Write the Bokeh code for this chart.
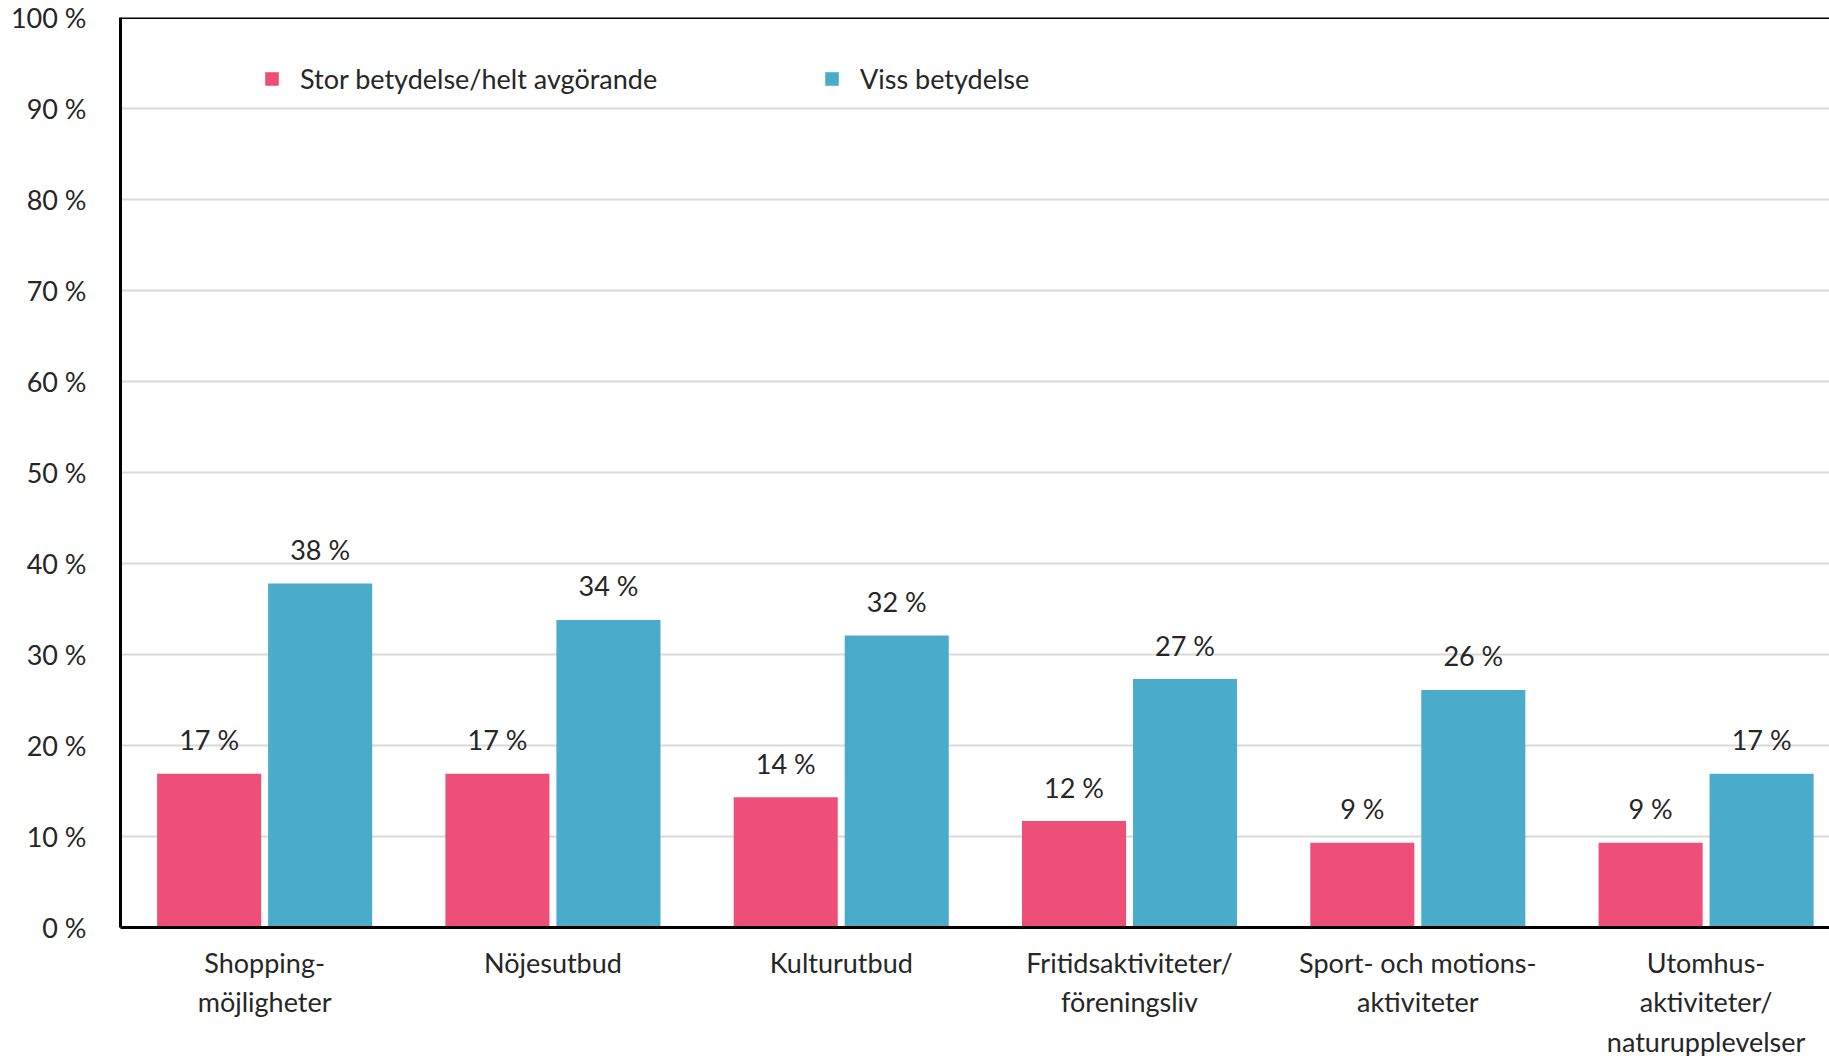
from bokeh.plotting import figure
from bokeh.models import (ColumnDataSource, Range1d, FixedTicker, Span, Legend, LegendItem)
from bokeh.core.properties import value
from bokeh.transform import dodge
from bokeh.embed import file_html
from bokeh.resources import INLINE

categories = ["Shopping-\nmöjligheter", "Nöjesutbud", "Kulturutbud",
              "Fritidsaktiviteter/\nföreningsliv", "Sport- och motions-\naktiviteter",
              "Utomhus-\naktiviteter/\nnaturupplevelser"]
stor = [16.9, 16.9, 14.3, 11.7, 9.3, 9.3]
viss = [37.8, 33.8, 32.1, 27.3, 26.1, 16.9]
series_names = ["Stor betydelse/helt avgörande", "Viss betydelse"]
y_ticks = [0, 10, 20, 30, 40, 50, 60, 70, 80, 90, 100]
y_tick_labels = ["0 %", "10 %", "20 %", "30 %", "40 %", "50 %", "60 %", "70 %", "80 %", "90 %", "100 %"]

PINK = "#ee4f78"
BLUE = "#4babcb"
FONT = "Lato"
FS = "27px"
TXT = "#262626"

xpos = [i + 0.5 for i in range(len(categories))]
src = ColumnDataSource(dict(
    x=xpos, stor=stor, viss=viss,
    stor_lbl=[f"{round(v)} %" for v in stor],
    viss_lbl=[f"{round(v)} %" for v in viss],
))

p = figure(output_backend="svg", toolbar_location=None,
           frame_width=1709, frame_height=910,
           min_border_left=120, min_border_right=0, min_border_top=17, min_border_bottom=127,
           x_range=Range1d(0, 5.928), y_range=Range1d(0, 100))
p.outline_line_color = None
p.background_fill_color = "white"

off = 0.1925
w = 0.361
r1 = p.vbar(x=dodge("x", -off, range=p.x_range), top="stor", width=w, source=src,
            fill_color=PINK, line_color=None)
r2 = p.vbar(x=dodge("x", off, range=p.x_range), top="viss", width=w, source=src,
            fill_color=BLUE, line_color=None)

for xo, col in ((-off, "stor_lbl"), (off, "viss_lbl")):
    p.text(x=dodge("x", xo, range=p.x_range), y=col.split("_")[0], text=col, source=src,
           text_align="center", text_baseline="middle", y_offset=-34,
           text_font=value(FONT), text_font_size=value(FS), text_color=TXT)

# axes
p.xaxis.ticker = FixedTicker(ticks=xpos)
p.xaxis.major_label_overrides = {x: c for x, c in zip(xpos, categories)}
p.xaxis.major_tick_line_color = None
p.xaxis.minor_tick_line_color = None
p.xaxis.axis_line_color = "black"
p.xaxis.axis_line_width = 3
p.xaxis.major_label_standoff = 12
p.xaxis.major_label_text_font = FONT
p.xaxis.major_label_text_font_size = FS
p.xaxis.major_label_text_color = TXT

p.yaxis.ticker = FixedTicker(ticks=y_ticks)
p.yaxis.major_label_overrides = {t: l for t, l in zip(y_ticks, y_tick_labels)}
p.yaxis.major_tick_line_color = None
p.yaxis.minor_tick_line_color = None
p.yaxis.axis_line_color = "black"
p.yaxis.axis_line_width = 3
p.yaxis.major_label_standoff = 28
p.yaxis.major_label_text_font = FONT
p.yaxis.major_label_text_font_size = FS
p.yaxis.major_label_text_color = TXT

p.xgrid.grid_line_color = None
p.ygrid.ticker = FixedTicker(ticks=y_ticks)
p.ygrid.grid_line_color = "#d9d9d9"
p.ygrid.grid_line_width = 2

p.add_layout(Span(location=100, dimension="width", line_color="black", line_width=3))

for r, name, xloc in ((r1, series_names[0], 143), (r2, series_names[1], 703)):
    lg = Legend(items=[LegendItem(label=name, renderers=[r])], location=(xloc, 832),
                orientation="horizontal", glyph_width=17, glyph_height=17,
                label_standoff=20, padding=0, margin=0, border_line_color=None,
                background_fill_alpha=0, label_text_font=FONT,
                label_text_font_size=FS, label_text_color=TXT)
    p.add_layout(lg)

open("out.html", "w").write(file_html(p, INLINE))
